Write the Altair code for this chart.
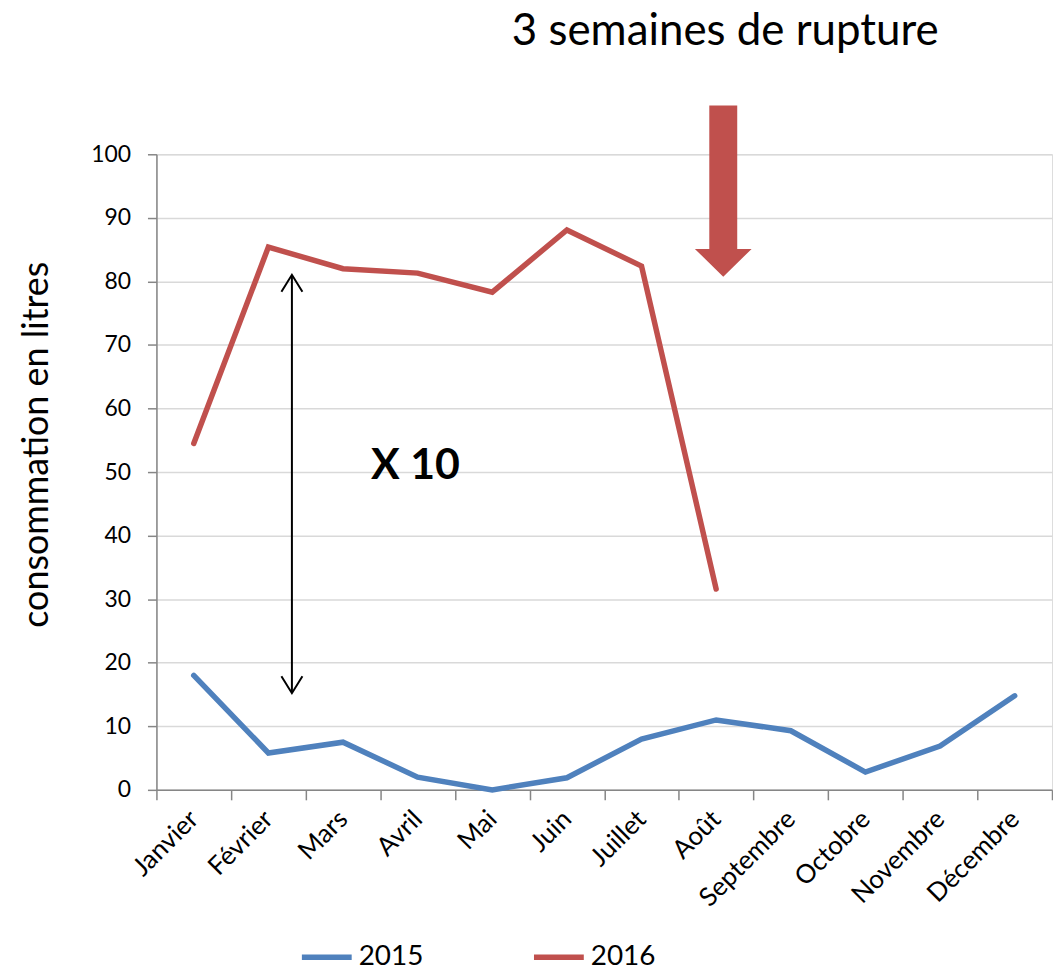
import altair as alt
import pandas as pd

months = ["Janvier", "Février", "Mars", "Avril", "Mai", "Juin", "Juillet",
          "Août", "Septembre", "Octobre", "Novembre", "Décembre"]
values_2015 = [18.0, 5.8, 7.5, 2.0, 0.0, 1.9, 8.0, 11.0, 9.3, 2.8, 6.9, 14.8]
values_2016 = [54.5, 85.4, 82.0, 81.3, 78.3, 88.1, 82.4, 31.6]
years = ["2015", "2016"]
y_ticks = [0, 10, 20, 30, 40, 50, 60, 70, 80, 90, 100]

FONT = "Lato"
BLUE = "#4f81bd"
RED = "#c0504d"

rows = []
for m, v in zip(months, values_2015):
    rows.append({"mois": m, "annee": "2015", "valeur": v})
for m, v in zip(months, values_2016):
    rows.append({"mois": m, "annee": "2016", "valeur": v})
df = pd.DataFrame(rows)

W, H = 899, 638

lines = alt.Chart(df).mark_line(strokeWidth=5.5, strokeCap="round", strokeJoin="miter").encode(
    x=alt.X("mois:N", sort=months, bandPosition=0.5,
            scale=alt.Scale(type="band", paddingInner=0, paddingOuter=0),
            axis=alt.Axis(title=None, labelAngle=-45, labelAlign="right", labelBaseline="middle",
                          labelFontSize=26, labelFont=FONT, labelColor="black", labelPadding=15,
                          tickBand="extent", tickSize=10, tickColor="#868686", tickWidth=1.5,
                          domainColor="#868686", domainWidth=1.5, grid=False, labelOverlap=False)),
    y=alt.Y("valeur:Q", scale=alt.Scale(domain=[0, 100], nice=False),
            axis=alt.Axis(title="consommation en litres", values=y_ticks,
                          labelFontSize=23, labelFont=FONT, labelColor="black", labelPadding=17,
                          tickSize=9, tickColor="#868686", tickWidth=1.5,
                          domainColor="#868686", domainWidth=1.5,
                          grid=True, gridColor="#d9d9d9", gridWidth=1.5,
                          titleFont=FONT, titleFontSize=36, titleFontWeight="normal",
                          titleColor="black", titleAngle=-90, titleAlign="center",
                          titleBaseline="middle", titleX=-120, titleY=291)),
    color=alt.Color("annee:N", scale=alt.Scale(domain=years, range=[BLUE, RED]),
                    legend=alt.Legend(title=None, orient="none", legendX=143, legendY=778,
                                      direction="horizontal", symbolType="stroke",
                                      symbolSize=2500, symbolStrokeWidth=5.5,
                                      labelFontSize=28, labelFont=FONT, labelColor="black",
                                      labelOffset=4, columnPadding=100)),
    detail="annee:N",
)

one = pd.DataFrame({"k": [0]})

# big red arrow (shaft + head as one symbol)
arrow_path = "M-0.163,-1L0.163,-1L0.163,0.674L0.331,0.674L0,1L-0.331,0.674L-0.163,0.674Z"
red_arrow = alt.Chart(one).mark_point(shape=arrow_path, filled=True, fill=RED,
                                      strokeWidth=0, opacity=1, size=172 * 172).encode(
    x=alt.value(569), y=alt.value(37))

# double arrow
shaft = alt.Chart(one).mark_rule(color="black", strokeWidth=2).encode(
    x=alt.value(136), y=alt.value(122), y2=alt.value(540))
head_up = alt.Chart(one).mark_point(shape="M-0.62,1L0,0L0.62,1", filled=False, stroke="black",
                                    strokeWidth=2, opacity=1, size=34 * 34).encode(
    x=alt.value(136), y=alt.value(121))
head_down = alt.Chart(one).mark_point(shape="M-0.62,-1L0,0L0.62,-1", filled=False, stroke="black",
                                      strokeWidth=2, opacity=1, size=34 * 34).encode(
    x=alt.value(136), y=alt.value(541))

x10 = alt.Chart(one).mark_text(text="X 10", font=FONT, fontSize=43, fontWeight="bold",
                               align="center", baseline="middle", color="black").encode(
    x=alt.value(260), y=alt.value(313))

title = alt.Chart(one).mark_text(text="3 semaines de rupture", font=FONT, fontSize=44,
                                 align="center", baseline="alphabetic", color="black").encode(
    x=alt.value(571), y=alt.value(-110))

chart = alt.layer(lines, red_arrow, shaft, head_up, head_down, x10, title).properties(
    width=W, height=H,
    autosize=alt.AutoSizeParams(type="none"),
    padding={"left": 149, "top": 145, "right": 1, "bottom": 181},
).configure_view(stroke=None).configure(background="white")

chart.save("out.html", embed_options={"renderer": "svg", "actions": False})
